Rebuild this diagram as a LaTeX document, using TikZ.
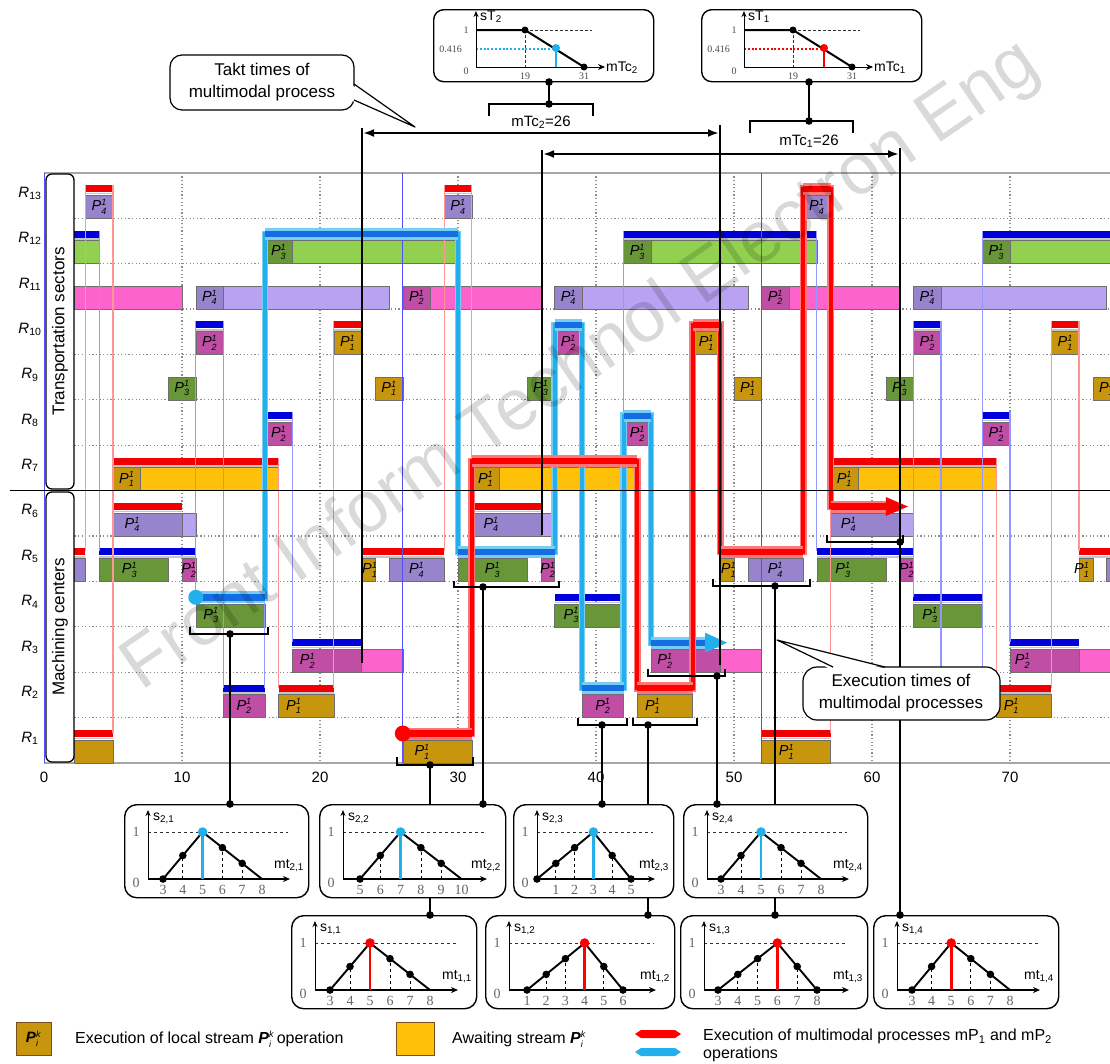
\documentclass[tikz,border=0pt]{standalone}
\usepackage{fontspec}
\setmainfont{Liberation Sans}
\newfontfamily\serifA{Liberation Serif}
\usetikzlibrary{arrows.meta}

\definecolor{p1d}{RGB}{200,150,12}
\definecolor{p1w}{RGB}{255,192,10}
\definecolor{p2d}{RGB}{192,78,164}
\definecolor{p2w}{RGB}{252,100,204}
\definecolor{p3d}{RGB}{104,150,56}
\definecolor{p3w}{RGB}{146,208,80}
\definecolor{p4d}{RGB}{152,132,204}
\definecolor{p4w}{RGB}{186,162,242}
\definecolor{barR}{RGB}{240,0,0}
\definecolor{barB}{RGB}{0,0,220}
\definecolor{cyP}{RGB}{35,175,235}
\definecolor{cyL}{RGB}{120,205,245}
\definecolor{cyD}{RGB}{20,110,225}
\definecolor{rdL}{RGB}{255,120,120}
\definecolor{lnR}{RGB}{255,150,150}
\definecolor{lnB}{RGB}{150,150,255}
\definecolor{perB}{RGB}{80,80,250}
\definecolor{edge}{RGB}{110,110,110}
\definecolor{gridc}{RGB}{140,140,140}
\definecolor{lgedge}{RGB}{120,80,30}

\newcount\labn
\newcommand\yB[1]{\pgfmathsetmacro\yb{763-45.4*((#1)-1)}}
\newcommand\smallit[1]{\mbox{\fontsize{9}{9}\selectfont\itshape #1}}
\newcommand\Pk[1]{\textit{P}$^{\smallit{1}}_{\smallit{#1}}$}
\newcommand\Pik{\textbf{\textit{P}}$^{\smallit{k}}_{\smallit{i}}$}
\newcommand\myBox[4]{\yB{#1}\filldraw[fill=#4,draw=edge,line width=0.6pt] (#2,\yb-23) rectangle (#3,\yb);}
\newcommand\myBar[4]{\yB{#1}\fill[#4] (#2,\yb-33) rectangle (#3,\yb-26);\fill[gray!45] (#2,\yb-25.2) rectangle (#3,\yb-23.8);}
\newcommand\myLab[3]{\yB{#1}\global\advance\labn by 1\relax\node[plab] (lab\the\labn) at (#2,\yb-11.5) {\Pk{#3}};}
\newcommand\myVl[4]{\pgfmathsetmacro\ya{763-45.4*((#2)-1)-33}\pgfmathsetmacro\yc{763-45.4*((#3)-1)-30}\draw[#4, line width=1.1pt] (#1,\ya) -- (#1,\yc);}
\newcommand\myHb[5]{\fill[#1] (#3,#5-6) rectangle (#4,#5+6);\fill[#2] (#3,#5-3.2) rectangle (#4,#5+3.2);}
\newcommand\myIx[1]{\vo+((#1)-\vz)*\vs}
\newcommand\insetsetup[9]{\def\iname{#1}\def\iL{#2}\def\iT{#3}\def\iW{#4}\def\isub{#5}\def\icol{#6}\def\vz{#7}\def\vo{#8}\def\vs{#9}}
\newcommand\insetdraw[6]{%
 \node[ibox, minimum width=\iW pt, minimum height=93pt, anchor=north west] (\iname) at (\iL,\iT) {};
 \begin{scope}[shift={(\iL+24,\iT+75)}]
 \draw[dashed, line width=0.9pt, black!80] (0,-47) -- ({\iW-44},-47);
 \foreach \vv/\hh in {#6} {\pgfmathsetmacro\xq{\myIx{\vv}}\pgfmathsetmacro\yq{-47*\hh}\draw[dashed, line width=0.7pt] (\xq,0) -- (\xq,\yq);}
 \draw[line width=0.8pt, -{Stealth[length=6pt,width=5pt]}] (0,0) -- (0,-69);
 \draw[line width=1.6pt, -{Stealth[length=7pt,width=6pt]}] (0,0) -- ({\iW-42},0);
 \pgfmathsetmacro\xa{\myIx{#2}}\pgfmathsetmacro\xp{\myIx{#3}}\pgfmathsetmacro\xb{\myIx{#4}}
 \draw[line width=1.9pt, line join=round] (0,0) -- (\xa,0) -- (\xp,-47) -- (\xb,0);
 \draw[\icol, line width=2.6pt] (\xp,0) -- (\xp,-47);
 \foreach \vv/\hh in {#5} {\pgfmathsetmacro\xq{\myIx{\vv}}\pgfmathsetmacro\yq{-47*\hh}\fill (\xq,\yq) circle (3.8pt);}
 \fill[\icol] (\xp,-47) circle (4.8pt);
 \foreach \vv in {#1} {\pgfmathsetmacro\xq{\myIx{\vv}}\node[tickl] (\iname-t\vv) at (\xq,11) {\vv};}
 \node[tickl] (\iname-ya) at (-12,-47) {1};
 \node[tickl] (\iname-yb) at (-12,4) {0};
 \node[ilab, anchor=west] (\iname-s) at (5,-61) {s\textsubscript{\isub}};
 \node[ilab, anchor=east] (\iname-m) at ({\iW-28},-13) {mt\textsubscript{\isub}};
 \end{scope}}
\newcommand\sTin[4]{%
 \begin{scope}[xshift=#2pt]
 \node[ibox, rounded corners=10pt, minimum width=220pt, minimum height=72pt, anchor=north west] (#1) at (433,9) {};
 \draw[#4, line width=1.6pt, dash pattern=on 2pt off 1.8pt] (476,49) -- (556,49);
 \draw[black!80, line width=0.7pt, dash pattern=on 3pt off 2pt] (525,30) -- (592,30) (525,30) -- (525,67);
 \draw[line width=0.9pt, -{Stealth[length=6pt,width=5pt]}] (476,67) -- (476,11);
 \draw[line width=0.9pt, -{Stealth[length=7pt,width=6pt]}] (476,67) -- (605,67);
 \draw[line width=2pt, line join=round] (476,30) -- (525,30) -- (584,67);
 \fill (525,30) circle (3.5pt); \fill (584,67) circle (3.5pt);
 \draw[#4, line width=2.4pt] (556,50) -- (556,67);
 \fill[#4] (556,48) circle (4pt);
 \node[ilab, anchor=west] (#1-s) at (480,17) {sT\textsubscript{#3}};
 \node[stl] (#1-a) at (466,30) {1};
 \node[stl, anchor=east] (#1-b) at (462,49) {0.416};
 \node[stl] (#1-c) at (466,71) {0};
 \node[stl] (#1-d) at (525,76) {19};
 \node[stl] (#1-e) at (584,76) {31};
 \node[ilab, anchor=west] (#1-m) at (606,68) {mTc\textsubscript{#3}};
 \end{scope}}

\begin{document}
\begin{tikzpicture}[x=1pt,y=-1pt,
  plab/.style={inner sep=0pt, font=\fontsize{14.5}{14.5}\selectfont},
  rlab/.style={inner sep=0pt, font=\fontsize{15}{15}\selectfont},
  axl/.style={inner sep=0pt, font=\fontsize{15}{15}\selectfont},
  ibox/.style={draw, line width=1.4pt, fill=white, rounded corners=12pt, inner sep=0pt},
  ilab/.style={inner sep=0pt, font=\fontsize{14}{14}\selectfont},
  tickl/.style={inner sep=0pt, font=\serifA\fontsize{14}{14}\selectfont, text=black!60},
  stl/.style={inner sep=0pt, font=\serifA\fontsize{10}{10}\selectfont, text=black!70},
  call/.style={inner sep=0pt, font=\fontsize{17}{22}\selectfont, align=center},
  lgt/.style={inner sep=0pt, font=\fontsize{16}{18}\selectfont, align=left},
  gridl/.style={gridc, line width=1.1pt, dash pattern=on 1.2pt off 2.4pt},
  blk/.style={black, line width=1.3pt},
  tk/.style={black, line width=2.2pt},
]
\useasboundingbox (0,0) rectangle (1110,1063);
\fill[white] (0,0) rectangle (1110,1063);

\begin{scope}[shift={(44,0)}, x=13.8pt]
% grid
\foreach \k in {2,3,4,5,6,8,9,10,11,12,13} {\yB{\k}\draw[gridl] (2.2,\yb) -- (80,\yb);}
\foreach \t in {10,20,...,70} \draw[gridl] (\t,172.8) -- (\t,763);
\draw[gray!70, line width=1.5pt] (0,172.8) -- (80,172.8);
\draw[gray!70, line width=1.5pt] (0,763) -- (80,763);
% R13
\myBox{13}{3}{5}{p4d}\myBox{13}{29}{31}{p4d}\myBox{13}{55}{57}{p4d}
% R12
\myBox{12}{2.2}{4}{p3w}\myBox{12}{18}{30}{p3w}\myBox{12}{16}{18}{p3d}\myBox{12}{44}{56}{p3w}\myBox{12}{42}{44}{p3d}\myBox{12}{70}{81}{p3w}\myBox{12}{68}{70}{p3d}
% R11
\myBox{11}{2.2}{10}{p2w}\myBox{11}{13}{25}{p4w}\myBox{11}{11}{13}{p4d}\myBox{11}{28}{36}{p2w}\myBox{11}{26}{28}{p2d}\myBox{11}{39}{51}{p4w}\myBox{11}{37}{39}{p4d}\myBox{11}{54}{62}{p2w}\myBox{11}{52}{54}{p2d}\myBox{11}{65}{77}{p4w}\myBox{11}{63}{65}{p4d}
% R10
\myBox{10}{11}{13}{p2d}\myBox{10}{37}{39}{p2d}\myBox{10}{63}{65}{p2d}\myBox{10}{21}{23}{p1d}\myBox{10}{47}{49}{p1d}\myBox{10}{73}{75}{p1d}
% R9
\myBox{9}{9}{11}{p3d}\myBox{9}{35}{37}{p3d}\myBox{9}{61}{63}{p3d}\myBox{9}{24}{26}{p1d}\myBox{9}{50}{52}{p1d}\myBox{9}{76}{78}{p1d}
% R8
\myBox{8}{16}{18}{p2d}\myBox{8}{42}{44}{p2d}\myBox{8}{68}{70}{p2d}
% R7
\myBox{7}{7}{17}{p1w}\myBox{7}{5}{7}{p1d}\myBox{7}{33}{43}{p1w}\myBox{7}{31}{33}{p1d}\myBox{7}{59}{69}{p1w}\myBox{7}{57}{59}{p1d}
% R6
\myBox{6}{10}{11}{p4w}\myBox{6}{5}{10}{p4d}\myBox{6}{36}{37}{p4w}\myBox{6}{31}{36}{p4d}\myBox{6}{62}{63}{p4w}\myBox{6}{57}{62}{p4d}
% R5
\myBox{5}{2.2}{3}{p4d}\myBox{5}{4}{9}{p3d}\myBox{5}{10}{11}{p2d}\myBox{5}{23}{24}{p1d}\myBox{5}{25}{29}{p4d}\myBox{5}{30}{35}{p3d}\myBox{5}{36}{37}{p2d}\myBox{5}{49}{50}{p1d}\myBox{5}{51}{55}{p4d}\myBox{5}{56}{61}{p3d}\myBox{5}{62}{63}{p2d}\myBox{5}{75}{76}{p1d}\myBox{5}{77}{81}{p4d}
% R4
\myBox{4}{11}{16}{p3d}\myBox{4}{37}{42}{p3d}\myBox{4}{63}{68}{p3d}
% R3
\myBox{3}{23}{26}{p2w}\myBox{3}{18}{23}{p2d}\myBox{3}{49}{52}{p2w}\myBox{3}{44}{49}{p2d}\myBox{3}{75}{78}{p2w}\myBox{3}{70}{75}{p2d}
% R2
\myBox{2}{13}{16}{p2d}\myBox{2}{39}{42}{p2d}\myBox{2}{65}{68}{p2d}\myBox{2}{17}{21}{p1d}\myBox{2}{43}{47}{p1d}\myBox{2}{69}{73}{p1d}
% R1
\myBox{1}{2.2}{5}{p1d}\myBox{1}{26}{31}{p1d}\myBox{1}{52}{57}{p1d}\myBox{1}{78}{83}{p1d}
% bars
\myBar{13}{3}{5}{barR}\myBar{13}{29}{31}{barR}\myBar{13}{55}{57}{barR}
\myBar{12}{2.2}{4}{barB}\myBar{12}{16}{30}{barB}\myBar{12}{42}{56}{barB}\myBar{12}{68}{81}{barB}
\myBar{10}{11}{13}{barB}\myBar{10}{37}{39}{barB}\myBar{10}{63}{65}{barB}\myBar{10}{21}{23}{barR}\myBar{10}{47}{49}{barR}\myBar{10}{73}{75}{barR}
\myBar{8}{16}{18}{barB}\myBar{8}{42}{44}{barB}\myBar{8}{68}{70}{barB}
\myBar{7}{5}{17}{barR}\myBar{7}{31}{43}{barR}\myBar{7}{57}{69}{barR}
\myBar{6}{5}{10}{barR}\myBar{6}{31}{36}{barR}\myBar{6}{57}{62}{barR}
\myBar{5}{2.2}{3}{barR}\myBar{5}{4}{11}{barB}\myBar{5}{23}{29}{barR}\myBar{5}{30}{37}{barB}\myBar{5}{49}{55}{barR}\myBar{5}{56}{63}{barB}\myBar{5}{75}{81}{barR}
\myBar{4}{11}{16}{barB}\myBar{4}{37}{42}{barB}\myBar{4}{63}{68}{barB}
\myBar{3}{18}{23}{barB}\myBar{3}{44}{49}{barB}\myBar{3}{70}{75}{barB}
\myBar{2}{13}{16}{barB}\myBar{2}{39}{42}{barB}\myBar{2}{65}{68}{barB}\myBar{2}{17}{21}{barR}\myBar{2}{43}{47}{barR}\myBar{2}{69}{73}{barR}
\myBar{1}{2.2}{5}{barR}\myBar{1}{26}{31}{barR}\myBar{1}{52}{57}{barR}\myBar{1}{78}{83}{barR}
% thin transport lines
\myVl{3}{13}{5}{lnR}\myVl{5}{13}{1}{lnR}\myVl{17}{7}{2}{lnR}\myVl{21}{10}{2}{lnR}\myVl{23}{10}{5}{lnR}\myVl{29}{13}{5}{lnR}\myVl{31}{13}{7}{lnR}\myVl{57}{7}{1}{lnR}\myVl{69}{7}{2}{lnR}\myVl{73}{10}{2}{lnR}\myVl{75}{10}{5}{lnR}
\myVl{4}{12}{5}{lnB}\myVl{11}{10}{4}{lnB}\myVl{13}{10}{2}{lnB}\myVl{16}{8}{2}{lnB}\myVl{18}{8}{3}{lnB}\myVl{42}{12}{4}{lnB}\myVl{56}{12}{5}{lnB}\myVl{63}{10}{4}{lnB}\myVl{65}{10}{2}{lnB}\myVl{68}{12}{2}{lnB}\myVl{70}{8}{3}{lnB}
% period lines
\foreach \t in {0,26,52} \draw[perB, line width=1pt] (\t,172.8) -- (\t,763);
% mP2 highlighted path
\draw[cyL, line width=6.5pt] (11,597.3) -- (16,597.3) -- (16,234.1) -- (30,234.1) -- (30,551.9) -- (37,551.9) -- (37,324.9) -- (39,324.9) -- (39,688.1) -- (42,688.1) -- (42,415.7) -- (44,415.7) -- (44,642.7) -- (48,642.7);
\draw[cyP, line width=4pt] (11,597.3) -- (16,597.3) -- (16,234.1) -- (30,234.1) -- (30,551.9) -- (37,551.9) -- (37,324.9) -- (39,324.9) -- (39,688.1) -- (42,688.1) -- (42,415.7) -- (44,415.7) -- (44,642.7) -- (48,642.7);
\myHb{cyL}{cyD}{11}{16}{597.3}\myHb{cyL}{cyD}{16}{30}{234.1}\myHb{cyL}{cyD}{30}{37}{551.9}\myHb{cyL}{cyD}{37}{39}{324.9}\myHb{cyL}{cyD}{39}{42}{688.1}\myHb{cyL}{cyD}{42}{44}{415.7}\myHb{cyL}{cyD}{44}{48.2}{642.7}
\fill[cyP] (47.9,632.7) -- (49.5,642.7) -- (47.9,652.7) -- cycle;
\fill[cyP] (11,597.3) circle (7.5pt);
% mP1 highlighted path
\draw[rdL, line width=7pt] (26,733.5) -- (31,733.5) -- (31,461.1) -- (43,461.1) -- (43,688.1) -- (47,688.1) -- (47,324.9) -- (49,324.9) -- (49,551.9) -- (55,551.9) -- (55,188.7) -- (57,188.7) -- (57,506.5) -- (61.2,506.5);
\draw[red, line width=4pt] (26,733.5) -- (31,733.5) -- (31,461.1) -- (43,461.1) -- (43,688.1) -- (47,688.1) -- (47,324.9) -- (49,324.9) -- (49,551.9) -- (55,551.9) -- (55,188.7) -- (57,188.7) -- (57,506.5) -- (61.2,506.5);
\myHb{rdL}{red}{26}{31}{733.5}\myHb{rdL}{red}{31}{43}{461.1}\myHb{rdL}{red}{43}{47}{688.1}\myHb{rdL}{red}{47}{49}{324.9}\myHb{rdL}{red}{49}{55}{551.9}\myHb{rdL}{red}{55}{57}{188.7}\myHb{rdL}{red}{57}{61.2}{506.5}
\fill[red] (61.0,497) -- (62.6,506.5) -- (61.0,516) -- cycle;
\fill[red] (26,733.5) circle (8pt);
% labels
\myLab{13}{4}{4}\myLab{13}{30}{4}\myLab{13}{56}{4}
\myLab{12}{17}{3}\myLab{12}{43}{3}\myLab{12}{69}{3}
\myLab{11}{12}{4}\myLab{11}{27}{2}\myLab{11}{38}{4}\myLab{11}{53}{2}\myLab{11}{64}{4}
\myLab{10}{12}{2}\myLab{10}{38}{2}\myLab{10}{64}{2}\myLab{10}{22}{1}\myLab{10}{48}{1}\myLab{10}{74}{1}
\myLab{9}{10}{3}\myLab{9}{36}{3}\myLab{9}{62}{3}\myLab{9}{25}{1}\myLab{9}{51}{1}\myLab{9}{77}{1}
\myLab{8}{17}{2}\myLab{8}{43}{2}\myLab{8}{69}{2}
\myLab{7}{6}{1}\myLab{7}{32}{1}\myLab{7}{58}{1}
\myLab{6}{6.4}{4}\myLab{6}{32.4}{4}\myLab{6}{58.3}{4}
\myLab{5}{6.2}{3}\myLab{5}{10.5}{2}\myLab{5}{23.6}{1}\myLab{5}{27}{4}\myLab{5}{32.5}{3}\myLab{5}{36.5}{2}\myLab{5}{49.6}{1}\myLab{5}{53}{4}\myLab{5}{57.9}{3}\myLab{5}{62.5}{2}\myLab{5}{75.2}{1}
\myLab{4}{12.1}{3}\myLab{4}{38.2}{3}\myLab{4}{64.2}{3}
\myLab{3}{19.1}{2}\myLab{3}{45}{2}\myLab{3}{70.9}{2}
\myLab{2}{14.5}{2}\myLab{2}{40.5}{2}\myLab{2}{66.5}{2}\myLab{2}{18.1}{1}\myLab{2}{44.1}{1}\myLab{2}{70.1}{1}
\myLab{1}{27.4}{1}\myLab{1}{53.8}{1}
% axis labels
\foreach \t in {0,10,...,70} \node[axl] (ax\t) at (\t,777) {\t};
\end{scope}

% row labels and side boxes
\foreach \k in {1,...,13} {\yB{\k}\node[rlab] (R\k) at (30,\yb-25) {\textit{R}\textsubscript{\k}};}
\node[draw, line width=1.3pt, rounded corners=6pt, rotate=90, minimum width=315pt, minimum height=28pt, inner sep=0pt, font=\fontsize{17}{17}\selectfont] (ts) at (60,331.5) {Transportation sectors};
\node[draw, line width=1.3pt, rounded corners=6pt, rotate=90, minimum width=270pt, minimum height=28pt, inner sep=0pt, font=\fontsize{17}{17}\selectfont] (mc) at (60,627) {Machining centers};
\draw[black, line width=1.6pt] (10,490.6) -- (1110,490.6);

% takt lines and arrows
\coordinate (k1a) at (362,128); \coordinate (k1b) at (362,663);
\coordinate (k2a) at (720,125); \coordinate (k2b) at (720,665);
\coordinate (k3a) at (542,150); \coordinate (k3b) at (542,535);
\coordinate (k4a) at (900,148);
\draw[tk] (k1a) -- (k1b);
\draw[tk] (k2a) -- (k2b);
\draw[tk] (k3a) -- (k3b);
\draw[tk, {Latex[length=11pt,width=8pt]}-{Latex[length=11pt,width=8pt]}] (363,133) -- (719,133);
\draw[tk, {Latex[length=11pt,width=8pt]}-{Latex[length=11pt,width=8pt]}] (543,154) -- (899,154);

% brackets
\draw[blk] (190,627) -- (190,634) -- (268,634) -- (268,627);
\draw[blk] (397,757) -- (397,765) -- (473,765) -- (473,757);
\draw[blk] (454,581) -- (454,587) -- (559,587) -- (559,581);
\draw[blk] (578,718) -- (578,725) -- (627,725) -- (627,718);
\draw[blk] (633,718) -- (633,725) -- (697,725) -- (697,718);
\draw[blk] (648,669) -- (648,676) -- (725,676) -- (725,669);
\draw[blk] (713,579) -- (713,586) -- (810,586) -- (810,579);
\draw[blk] (827,535) -- (827,542) -- (903,542) -- (903,535);
\coordinate (d1) at (230,634); \coordinate (e1) at (230,804);
\coordinate (d2) at (430,765); \coordinate (e2) at (430,915);
\coordinate (d3) at (483,587); \coordinate (e3) at (483,804);
\coordinate (d4) at (602,725); \coordinate (e4) at (602,804);
\coordinate (d5) at (648,725); \coordinate (e5) at (648,915);
\coordinate (d6) at (717,676); \coordinate (e6) at (717,804);
\coordinate (d7) at (775,586); \coordinate (e7) at (775,915);
\coordinate (d8) at (900,542); \coordinate (e8) at (900,915);
\draw[tk] (k4a) -- (d8);
\foreach \i in {1,...,8} \draw[blk] (d\i) -- (e\i);
\foreach \i in {1,...,8} \fill (d\i) circle (3.8pt);

% bottom insets
\insetsetup{s21}{124}{804}{184}{2,1}{cyP}{3}{15}{19.8}\insetdraw{3,...,8}{3}{5}{8}{3/0,4/0.5,6/0.667,7/0.333}{4/0.5,6/0.667,7/0.333}
\insetsetup{s22}{319}{804}{186}{2,2}{cyP}{5}{17}{20.3}\insetdraw{5,...,10}{5}{7}{10}{5/0,6/0.5,8/0.667,9/0.333}{6/0.5,8/0.667,9/0.333}
\insetsetup{s23}{513}{804}{160}{2,3}{cyP}{0}{0}{18.8}\insetdraw{1,...,5}{0}{3}{5}{0/0,1/0.333,2/0.667,4/0.5,5/0}{1/0.333,2/0.667,4/0.5}
\insetsetup{s24}{683}{804}{184}{2,4}{cyP}{3}{14}{20}\insetdraw{3,...,8}{3}{5}{8}{3/0,4/0.5,6/0.667,7/0.333}{4/0.5,6/0.667,7/0.333}
\insetsetup{s11}{291}{915}{185}{1,1}{red}{3}{15}{20}\insetdraw{3,...,8}{3}{5}{8}{3/0,4/0.5,6/0.667,7/0.333}{4/0.5,6/0.667,7/0.333}
\insetsetup{s12}{485}{915}{189}{1,2}{red}{1}{18}{19.2}\insetdraw{1,...,6}{1}{4}{6}{1/0,2/0.333,3/0.667,5/0.5,6/0}{2/0.333,3/0.667,5/0.5}
\insetsetup{s13}{680}{915}{187}{1,3}{red}{3}{14}{19.8}\insetdraw{3,...,8}{3}{6}{8}{3/0,4/0.333,5/0.667,7/0.5,8/0}{4/0.333,5/0.667,7/0.5}
\insetsetup{s14}{873}{915}{185}{1,4}{red}{3}{15}{19.6}\insetdraw{3,...,8}{3}{5}{8}{3/0,4/0.5,6/0.667,7/0.333}{4/0.5,6/0.667,7/0.333}
\foreach \i in {1,...,8} \fill (e\i) circle (3.8pt);

% top insets
\sTin{sT2}{0}{2}{cyP}
\sTin{sT1}{268}{1}{red}
\coordinate (t2a) at (549,82); \coordinate (t2b) at (549,104);
\coordinate (t1a) at (809,82); \coordinate (t1b) at (809,121);
\draw[blk] (t2a) -- (t2b); \draw[blk] (t1a) -- (t1b);
\fill (t2a) circle (3.8pt); \fill (t2b) circle (3.8pt);
\fill (t1a) circle (3.8pt); \fill (t1b) circle (3.8pt);
\draw[blk] (489,116) -- (489,104) -- (593,104) -- (593,116);
\draw[blk] (750,133) -- (750,121) -- (853,121) -- (853,133);
\node[inner sep=0pt, font=\fontsize{15}{15}\selectfont] (mtc2) at (541,122) {mTc\textsubscript{2}=26};
\node[inner sep=0pt, font=\fontsize{15}{15}\selectfont] (mtc1) at (809,141) {mTc\textsubscript{1}=26};

% callouts
\filldraw[fill=white, draw=black, line width=1.2pt, rounded corners=12pt] (170,55) rectangle (354,110);
\fill[white] (350,84) -- (415,127) -- (350,100) -- cycle;
\draw[black, line width=1.2pt, line join=round] (354,84) -- (415,127) -- (354,100);
\node[call] (c1) at (262,82.5) {Takt times of\\multimodal process};
\filldraw[fill=white, draw=black, line width=1.2pt, rounded corners=14pt] (803,667) rectangle (1000,720);
\fill[white] (830,669) -- (777,640) -- (886,669) -- cycle;
\draw[black, line width=1.2pt, line join=round] (833,667) -- (777,640) -- (885,667);
\node[call] (c2) at (901,693) {Execution times of\\multimodal processes};

% legend
\node[draw=lgedge, line width=1pt, fill=p1d, minimum width=35pt, minimum height=33pt, inner sep=0pt, font=\fontsize{15}{15}\selectfont] (lg1) at (33.5,1038.5) {\Pik};
\node[lgt, anchor=west] (lg1t) at (75,1039) {Execution of local stream \Pik\,operation};
\node[draw=lgedge, line width=1pt, fill=p1w, minimum width=38pt, minimum height=33pt, inner sep=0pt] (lg2) at (415,1038.5) {};
\node[lgt, anchor=west] (lg2t) at (452,1039) {Awaiting stream \Pik};
\fill[red] (635,1034) -- (641,1030) -- (675,1030) -- (681,1034) -- (675,1038) -- (641,1038) -- cycle;
\fill[cyP] (635,1052) -- (641,1048) -- (675,1048) -- (681,1052) -- (675,1056) -- (641,1056) -- cycle;
\node[lgt, anchor=north west] (lg3t) at (703,1029) {Execution of multimodal processes mP\textsubscript{1} and mP\textsubscript{2}\\operations};

% watermark
\node[rotate=34.5, anchor=base, text=black, text opacity=0.15, inner sep=0pt, font=\fontsize{72}{72}\selectfont] (wm) at (592,382) {Front Inform Technol Electron Eng};
\end{tikzpicture}
\end{document}
